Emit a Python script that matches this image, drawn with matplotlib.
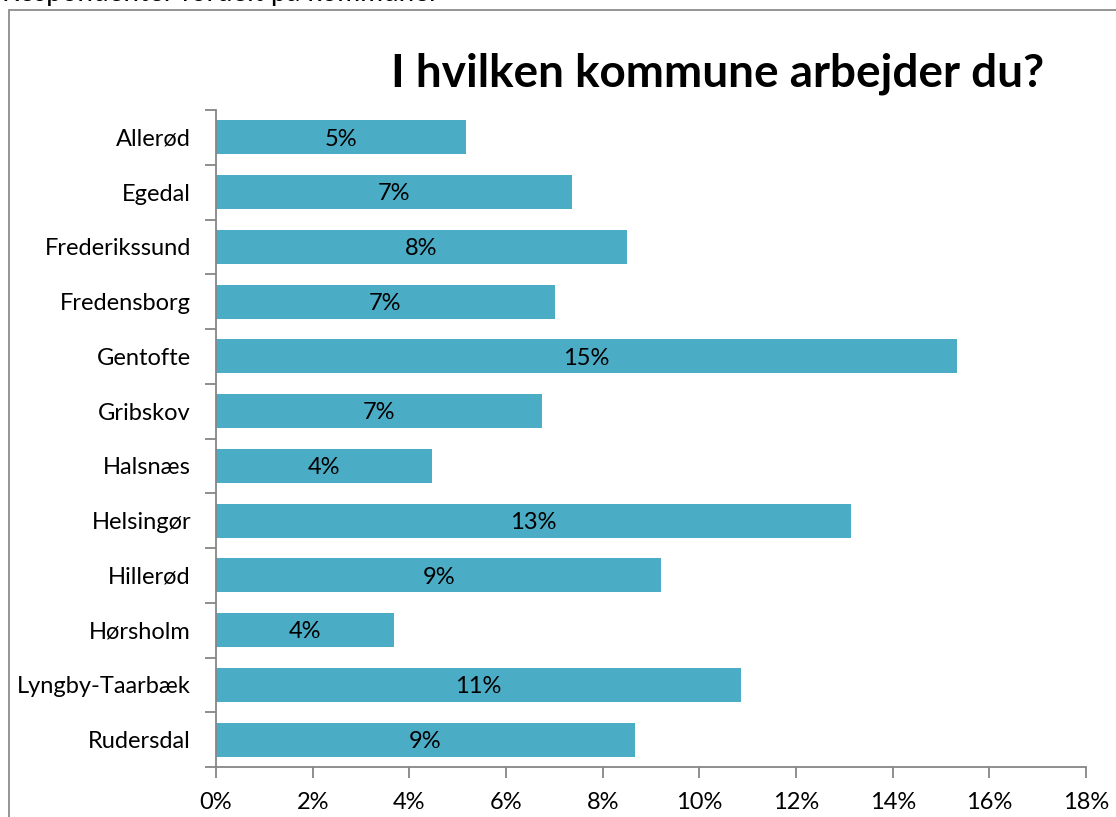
import numpy as np
import matplotlib.pyplot as plt
from matplotlib.patches import Rectangle
from matplotlib.ticker import FuncFormatter, MultipleLocator

# Data
kommuner = ['Allerød', 'Egedal', 'Frederikssund', 'Fredensborg', 'Gentofte',
            'Gribskov', 'Halsnæs', 'Helsingør', 'Hillerød', 'Hørsholm',
            'Lyngby-Taarbæk', 'Rudersdal']
andel = [5.17, 7.37, 8.5, 7.01, 15.33, 6.75, 4.47, 13.14, 9.21, 3.68, 10.86, 8.67]
labels = ['5%', '7%', '8%', '7%', '15%', '7%', '4%', '13%', '9%', '4%', '11%', '9%']

plt.rcParams['font.family'] = ['Lato', 'DejaVu Sans']
bar_color = '#4BACC6'
axis_color = '#868686'

fig = plt.figure(figsize=(11.16, 8.17), dpi=100)
ax = fig.add_axes([216 / 1116, 50 / 817, 870 / 1116, 657 / 817])

# Chart area border (cut off at right and bottom, as in the reference)
fig.patches.append(Rectangle((9 / 1116, -0.1), 1.2, 1 - 10 / 817 + 0.1,
                             transform=fig.transFigure, fill=False,
                             edgecolor='#8c8c8c', linewidth=1.3))
# heading above the chart, cut off at the top edge as in the reference
fig.text(2 / 1116, 1 - 1 / 817, 'Respondenter fordelt på kommuner',
         fontsize=20, va='baseline', ha='left')

y = np.arange(len(kommuner))
ax.barh(y, andel, height=0.62, color=bar_color)
for yi, v, lab in zip(y, andel, labels):
    ax.text(v / 2, yi + 0.03, lab, ha='center', va='center', fontsize=17)

ax.set_xlim(0, 18)
ax.set_ylim(len(kommuner) - 0.5, -0.5)
ax.xaxis.set_major_locator(MultipleLocator(2))
ax.xaxis.set_major_formatter(FuncFormatter(lambda v, p: f'{v:.0f}%'))
ax.set_yticks(y)
ax.set_yticklabels(kommuner)
ax.set_yticks(np.arange(-0.5, len(kommuner)), minor=True)
ax.tick_params(axis='y', which='major', length=0, pad=18, labelsize=17)
ax.tick_params(axis='y', which='minor', length=8, color=axis_color, width=1.3)
ax.tick_params(axis='x', length=8, color=axis_color, width=1.3, pad=10, labelsize=17)

for s in ['top', 'right']:
    ax.spines[s].set_visible(False)
for s in ['left', 'bottom']:
    ax.spines[s].set_color(axis_color)
    ax.spines[s].set_linewidth(1.3)

fig.text(718 / 1116, 1 - 74 / 817, 'I hvilken kommune arbejder du?',
         fontsize=33, fontweight='bold', ha='center', va='center')

fig.savefig('out.png', dpi=100)
